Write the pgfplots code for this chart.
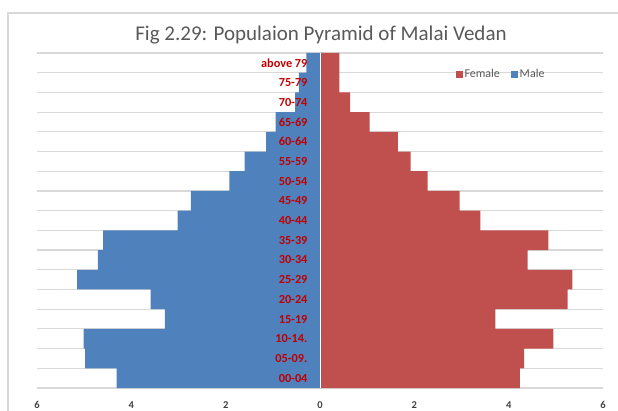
\documentclass[border=0pt]{standalone}
\usepackage{pgfplots}
\usepackage{pgfplotstable}
\pgfplotsset{compat=1.18}
\usepackage{fontspec}
\setmainfont{Carlito}
\definecolor{mblue}{HTML}{4F81BD}
\definecolor{fred}{HTML}{C0504D}
\definecolor{lbl}{HTML}{C00000}
\definecolor{grd}{HTML}{D9D9D9}
\definecolor{txt}{HTML}{595959}
\definecolor{tick}{HTML}{404040}

\pgfplotstableread[col sep=comma]{
idx,label,male,female
0,00-04,-4.31,4.24
1,05-09.,-4.98,4.33
2,10-14.,-5.01,4.95
3,15-19,-3.29,3.72
4,20-24,-3.59,5.25
5,25-29,-5.15,5.35
6,30-34,-4.71,4.40
7,35-39,-4.60,4.84
8,40-44,-3.02,3.40
9,45-49,-2.74,2.96
10,50-54,-1.92,2.28
11,55-59,-1.60,1.92
12,60-64,-1.14,1.65
13,65-69,-0.94,1.05
14,70-74,-0.53,0.64
15,75-79,-0.45,0.41
16,above 79,-0.29,0.41
}\data

\begin{document}
\begin{tikzpicture}[x=1pt,y=1pt]
\useasboundingbox (0,0) rectangle (618,410);
\draw[grd, line width=1.5pt] (8,-5) -- (8,397) -- (630,397);
\node[text=txt, font=\fontsize{21}{25}\selectfont] at (321,375) {Fig 2.29: Populaion Pyramid of Malai Vedan};
\begin{axis}[
  axis on top,
  at={(37pt,22pt)}, anchor=south west,
  scale only axis, width=566pt, height=335pt,
  xbar, bar shift=0pt, bar width=1,
  xmin=-6, xmax=6, ymin=-0.5, ymax=16.5,
  xtick={-6,-4,...,6}, xticklabels={6,4,2,0,2,4,6},
  ytick={0,...,16}, yticklabels from table={\data}{label},
  axis line style={draw=none},
  major tick length=0pt, minor tick length=0pt,
  xticklabel style={font=\bfseries\fontsize{10.5}{12}\selectfont, text=tick, anchor=center, yshift=-17pt},
  yticklabel style={anchor=east, xshift=274pt, font=\bfseries\fontsize{12.3}{14}\selectfont, text=lbl},
  legend style={at={(0.82,0.937)}, anchor=center, draw=none, fill=none,
    legend columns=2, font=\fontsize{12}{14}\selectfont, text=txt,
    /tikz/every even column/.append style={column sep=9pt},
    inner sep=0pt},
]
\pgfplotsinvokeforeach{-0.5,0.5,...,16.5}{
  \draw[grd, line width=1.2pt] (axis cs:-6,#1) -- (axis cs:6,#1);
}
\addplot[fill=fred, draw=none, legend image code/.code={\fill[fred] (0pt,-3.4pt) rectangle (6.8pt,3.4pt);}] table[x=female, y=idx]{\data};
\addlegendentry{Female}
\addplot[fill=mblue, draw=none, legend image code/.code={\fill[mblue] (0pt,-3.4pt) rectangle (6.8pt,3.4pt);}] table[x=male, y=idx]{\data};
\addlegendentry{Male}
\draw[white, line width=1pt] (axis cs:0,-0.5) -- (axis cs:0,16.5);
\end{axis}
\end{tikzpicture}
\end{document}
